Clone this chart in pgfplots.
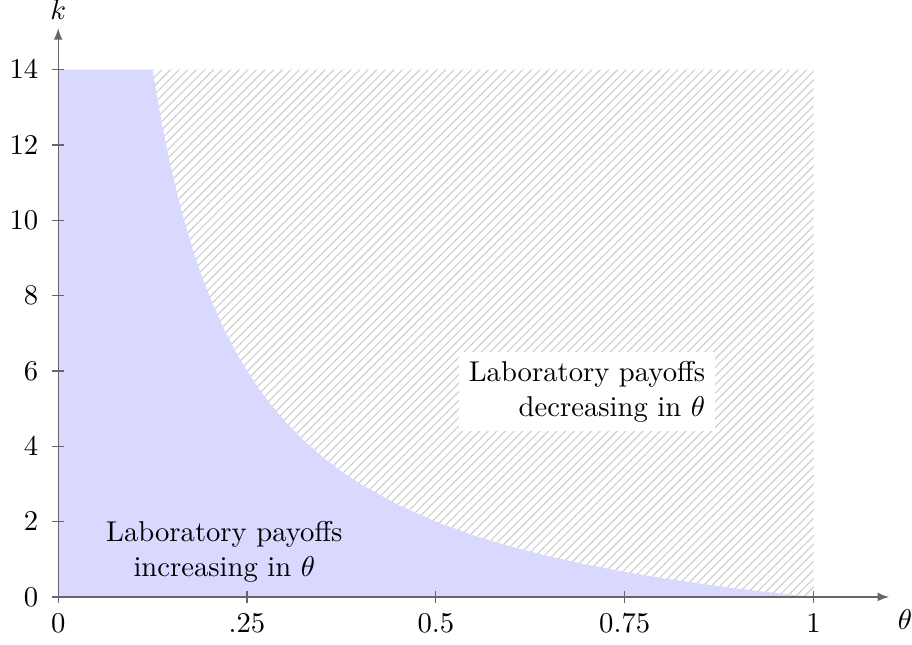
\documentclass[border=0pt]{standalone}
\usepackage{pgfplots}
\pgfplotsset{compat=1.18}
\usetikzlibrary{patterns}
\begin{document}
\begin{tikzpicture}
\begin{axis}[
  scale only axis,
  width=290pt, height=198.5pt,
  axis lines=middle,
  axis line style={gray!80!black, -latex},
  every tick/.style={gray!80!black, thin},
  xmin=0, xmax=1.1, ymin=0, ymax=15.1,
  xtick={0,0.25,0.5,0.75,1},
  xticklabels={0,.25,0.5,0.75,1},
  ytick={0,2,4,6,8,10,12,14},
  yticklabel style={xshift=-1.3pt},
  hide obscured x ticks=false,
  hide obscured y ticks=false,
  axis on top,
  xlabel={$\theta$}, ylabel={$k$},
  x label style={at={(axis description cs:1,0)}, anchor=center, inner sep=0pt, xshift=5.5pt, yshift=-8pt},
  y label style={at={(axis description cs:0,1)}, anchor=south, inner sep=0pt, yshift=2.7pt},
]
\addplot[fill=blue!15, draw=none] coordinates {
(0,0) (0,14) (0.125,14) (0.13,13.385) (0.14,12.286) (0.15,11.333) (0.16,10.5)
(0.17,9.765) (0.18,9.111) (0.19,8.526) (0.2,8) (0.22,7.091) (0.24,6.333)
(0.26,5.692) (0.28,5.143) (0.3,4.667) (0.325,4.154) (0.35,3.714) (0.375,3.333)
(0.4,3) (0.45,2.444) (0.5,2) (0.55,1.636) (0.6,1.333) (0.65,1.077) (0.7,0.857)
(0.75,0.667) (0.8,0.5) (0.85,0.353) (0.9,0.222) (0.95,0.105) (1,0)
} -- cycle;
\addplot[pattern=north east lines, pattern color=gray!38, draw=none] coordinates {
(0.125,14) (1,14) (1,0) (0.95,0.105) (0.9,0.222) (0.85,0.353) (0.8,0.5)
(0.75,0.667) (0.7,0.857) (0.65,1.077) (0.6,1.333) (0.55,1.636) (0.5,2)
(0.45,2.444) (0.4,3) (0.375,3.333) (0.35,3.714) (0.325,4.154) (0.3,4.667)
(0.28,5.143) (0.26,5.692) (0.24,6.333) (0.22,7.091) (0.2,8) (0.19,8.526)
(0.18,9.111) (0.17,9.765) (0.16,10.5) (0.15,11.333) (0.14,12.286) (0.13,13.385)
(0.125,14)
} -- cycle;
\node[align=center] at (axis cs:0.22,1.2) {Laboratory payoffs\\increasing in $\theta$};
\node[align=right, fill=white] at (axis cs:0.70,5.45) {Laboratory payoffs\\decreasing in $\theta$};
\end{axis}
\path ([yshift=-16.5pt]current axis.origin) circle (0pt);
\end{tikzpicture}
\end{document}
